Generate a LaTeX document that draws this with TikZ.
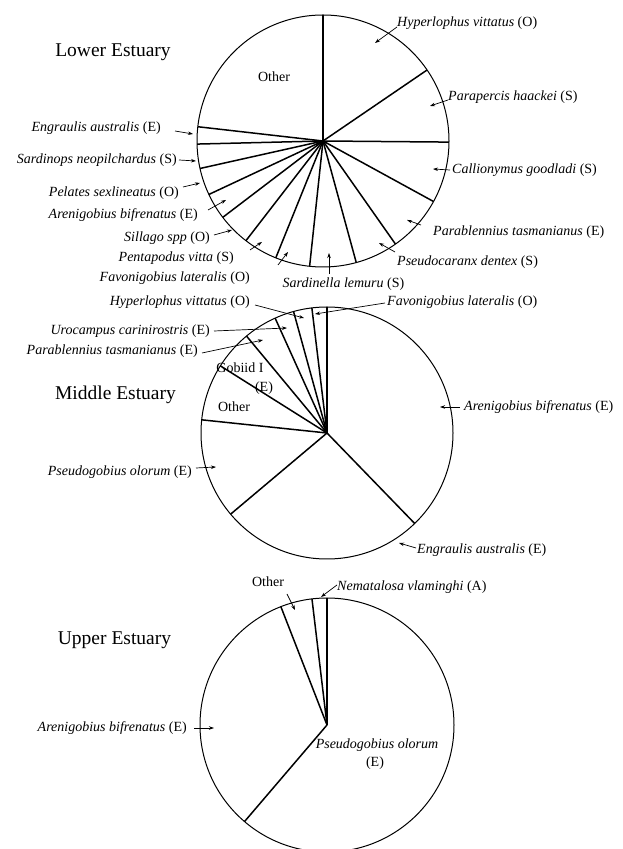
\documentclass[tikz,border=0pt]{standalone}
\usepackage{fontspec}
\setmainfont{Liberation Serif}
\usetikzlibrary{arrows.meta}
\begin{document}
\begin{tikzpicture}[x=1pt,y=1pt,
  lbl/.style={font=\fontsize{14}{16}\selectfont, inner sep=0pt},
  ttl/.style={font=\fontsize{19.5}{22}\selectfont, inner sep=0pt},
  spoke/.style={line width=1.5pt},
  rim/.style={line width=1pt},
  arr/.style={line width=0.7pt, -{Stealth[length=5pt,width=3.5pt]}}]
\useasboundingbox (0,0) rectangle (622,849);
% ---------- Lower estuary ----------
\coordinate (c1) at (323,708);
\draw[rim] (c1) circle[radius=126];
\foreach \a in {90,34.3,-0.5,-28.7,-54.9,-74.7,-96.1,-112,-127.7,-142.7,-154.9,-167.4,-178.6,173.5}
  \draw[spoke] (c1) -- ++(\a:126);
\node[ttl] (t1) at (113,797) {Lower Estuary};
\node[lbl] (o1) at (274,772) {Other};
\node[lbl,anchor=west] (a1) at (397,826) {\textit{Hyperlophus vittatus} (O)};
\node[lbl,anchor=west] (a2) at (448,752) {\textit{Parapercis haackei} (S)};
\node[lbl,anchor=west] (a3) at (452,679) {\textit{Callionymus goodladi} (S)};
\node[lbl,anchor=west] (a4) at (433,617) {\textit{Parablennius tasmanianus} (E)};
\node[lbl,anchor=west] (a5) at (397,587) {\textit{Pseudocaranx dentex} (S)};
\node[lbl,anchor=north] (a6) at (343.5,571) {\textit{Sardinella lemuru} (S)};
\node[lbl,anchor=east] (a7) at (250,571) {\textit{Favonigobius lateralis} (O)};
\node[lbl,anchor=east] (a8) at (234,591) {\textit{Pentapodus vitta} (S)};
\node[lbl,anchor=east] (a9) at (210,611) {\textit{Sillago spp} (O)};
\node[lbl,anchor=east] (a10) at (198,634) {\textit{Arenigobius bifrenatus} (E)};
\node[lbl,anchor=east] (a11) at (179,656) {\textit{Pelates sexlineatus} (O)};
\node[lbl,anchor=east] (a12) at (177,689) {\textit{Sardinops neopilchardus} (S)};
\node[lbl,anchor=east] (a13) at (161,721) {\textit{Engraulis australis} (E)};
\coordinate (h1) at (375,806);  \draw[arr] (397,822) -- (h1);
\coordinate (h2) at (430,743);  \draw[arr] (448,749) -- (h2);
\coordinate (h3) at (433,680);  \draw[arr] (450,679) -- (h3);
\coordinate (h4) at (407,629);  \draw[arr] (421,624) -- (h4);
\coordinate (h5) at (379,606);  \draw[arr] (395,597) -- (h5);
\coordinate (h6) at (329,596);  \draw[arr] (329,575) -- (h6);
\coordinate (h7) at (288,597);  \draw[arr] (278,584) -- (h7);
\coordinate (h8) at (262,607);  \draw[arr] (250,599) -- (h8);
\coordinate (h9) at (232,619);  \draw[arr] (214,614) -- (h9);
\coordinate (h10) at (226,649); \draw[arr] (208,639) -- (h10);
\coordinate (h11) at (200,666); \draw[arr] (183,662) -- (h11);
\coordinate (h12) at (196,688); \draw[arr] (179,689) -- (h12);
\coordinate (h13) at (193,715); \draw[arr] (175,718) -- (h13);
% ---------- Middle estuary ----------
\coordinate (c2) at (327,416);
\draw[rim] (c2) circle[radius=126];
\foreach \a in {90,96.9,105.4,114.3,129.7,147.8,174,-139.9,-45.9}
  \draw[spoke] (c2) -- ++(\a:126);
\node[ttl] (t2) at (115.5,454) {Middle Estuary};
\node[lbl] (o2) at (234,442) {Other};
\node[lbl] (g2) at (240,481) {Gobiid I};
\node[lbl] (g2e) at (264,461) {(E)};
\node[lbl,anchor=east] (b1) at (250,547) {\textit{Hyperlophus vittatus} (O)};
\node[lbl,anchor=west] (b2) at (387,547) {\textit{Favonigobius lateralis} (O)};
\node[lbl,anchor=east] (b3) at (210,518) {\textit{Urocampus carinirostris} (E)};
\node[lbl,anchor=east] (b4) at (198,498) {\textit{Parablennius tasmanianus} (E)};
\node[lbl,anchor=west] (b5) at (464,442) {\textit{Arenigobius bifrenatus} (E)};
\node[lbl,anchor=east] (b6) at (192,377) {\textit{Pseudogobius olorum} (E)};
\node[lbl,anchor=west] (b7) at (417,299) {\textit{Engraulis australis} (E)};
\coordinate (k1) at (304,531); \draw[arr] (255,544) -- (k1);
\coordinate (k2) at (315,535); \draw[arr] (385,546) -- (k2);
\coordinate (k3) at (287,521); \draw[arr] (214,518) -- (k3);
\coordinate (k4) at (263,509); \draw[arr] (202,496) -- (k4);
\coordinate (k5) at (440,442); \draw[arr] (460,442) -- (k5);
\coordinate (k6) at (216,382); \draw[arr] (196,381) -- (k6);
\coordinate (k7) at (399,306); \draw[arr] (416,301) -- (k7);
% ---------- Upper estuary ----------
\coordinate (c3) at (327,124);
\draw[rim] (c3) circle[radius=127];
\foreach \a in {90,96.8,111.3,-130.5}
  \draw[spoke] (c3) -- ++(\a:127);
\node[ttl] (t3) at (114.5,209) {Upper Estuary};
\node[lbl] (o3) at (268,267) {Other};
\node[lbl,anchor=west] (d1) at (337,262) {\textit{Nematalosa vlaminghi} (A)};
\node[lbl,anchor=east] (d2) at (187,121) {\textit{Arenigobius bifrenatus} (E)};
\node[lbl] (d3) at (377,104) {\textit{Pseudogobius olorum}};
\node[lbl] (d3e) at (375,86) {(E)};
\coordinate (m1) at (295,239); \draw[arr] (287,255) -- (m1);
\coordinate (m2) at (321,252); \draw[arr] (337,264) -- (m2);
\coordinate (m3) at (214,121); \draw[arr] (194,121) -- (m3);
\end{tikzpicture}
\end{document}
